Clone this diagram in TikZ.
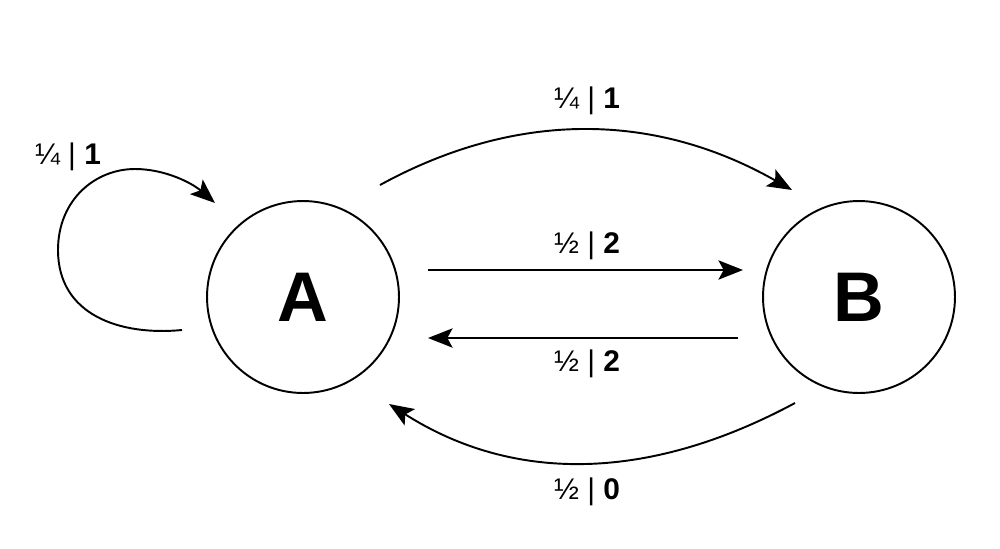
\documentclass[tikz,border=0pt]{standalone}
\usepackage{fontspec}
\setmainfont{Liberation Sans}
\usetikzlibrary{arrows.meta}
\begin{document}
\begin{tikzpicture}[x={(0.02cm,0)},y={(0,-0.02cm)},
  state/.style={draw,circle,line width=1.1pt,minimum size=3.84cm,inner sep=0pt,
    font=\fontsize{40}{44}\selectfont\bfseries},
  edge/.style={line width=1.1pt,-{Stealth[length=14pt,width=11pt,inset=3pt]}},
  lbl/.style={font=\fontsize{17}{19}\selectfont}]
\useasboundingbox (0,0) rectangle (1000,548);
\node[state] (A) at (303,297) {A};
\node[state] (B) at (859,297) {B};
% endpoints
\coordinate (t0) at (380,185);
\coordinate (t1) at (792,190);
\coordinate (m0) at (428,270);
\coordinate (m1) at (743,270);
\coordinate (n0) at (738,338);
\coordinate (n1) at (428,338);
\coordinate (b0) at (795,403);
\coordinate (b1) at (389,404);
\coordinate (l0) at (182,330);
\coordinate (l1) at (215,203);
% connectors
\draw[edge] (t0) .. controls (517,110) and (655,112) .. (t1);
\draw[edge] (m0) -- (m1);
\draw[edge] (n0) -- (n1);
\draw[edge] (b0) .. controls (648,482) and (513,483) .. (b1);
\draw[edge] (l0) .. controls (120,336) and (58,315) .. (58,250)
  .. controls (58,200) and (95,169) .. (135,169)
  .. controls (165,169) and (192,183) .. (l1);
% labels
\node[lbl] (lt) at (587,101) {¼ | \textbf{1}};
\node[lbl] (lm) at (587,246) {½ | \textbf{2}};
\node[lbl] (ln) at (587,364) {½ | \textbf{2}};
\node[lbl] (lb) at (587,492) {½ | \textbf{0}};
\node[lbl] (ll) at (68,157) {¼ | \textbf{1}};
\end{tikzpicture}
\end{document}
